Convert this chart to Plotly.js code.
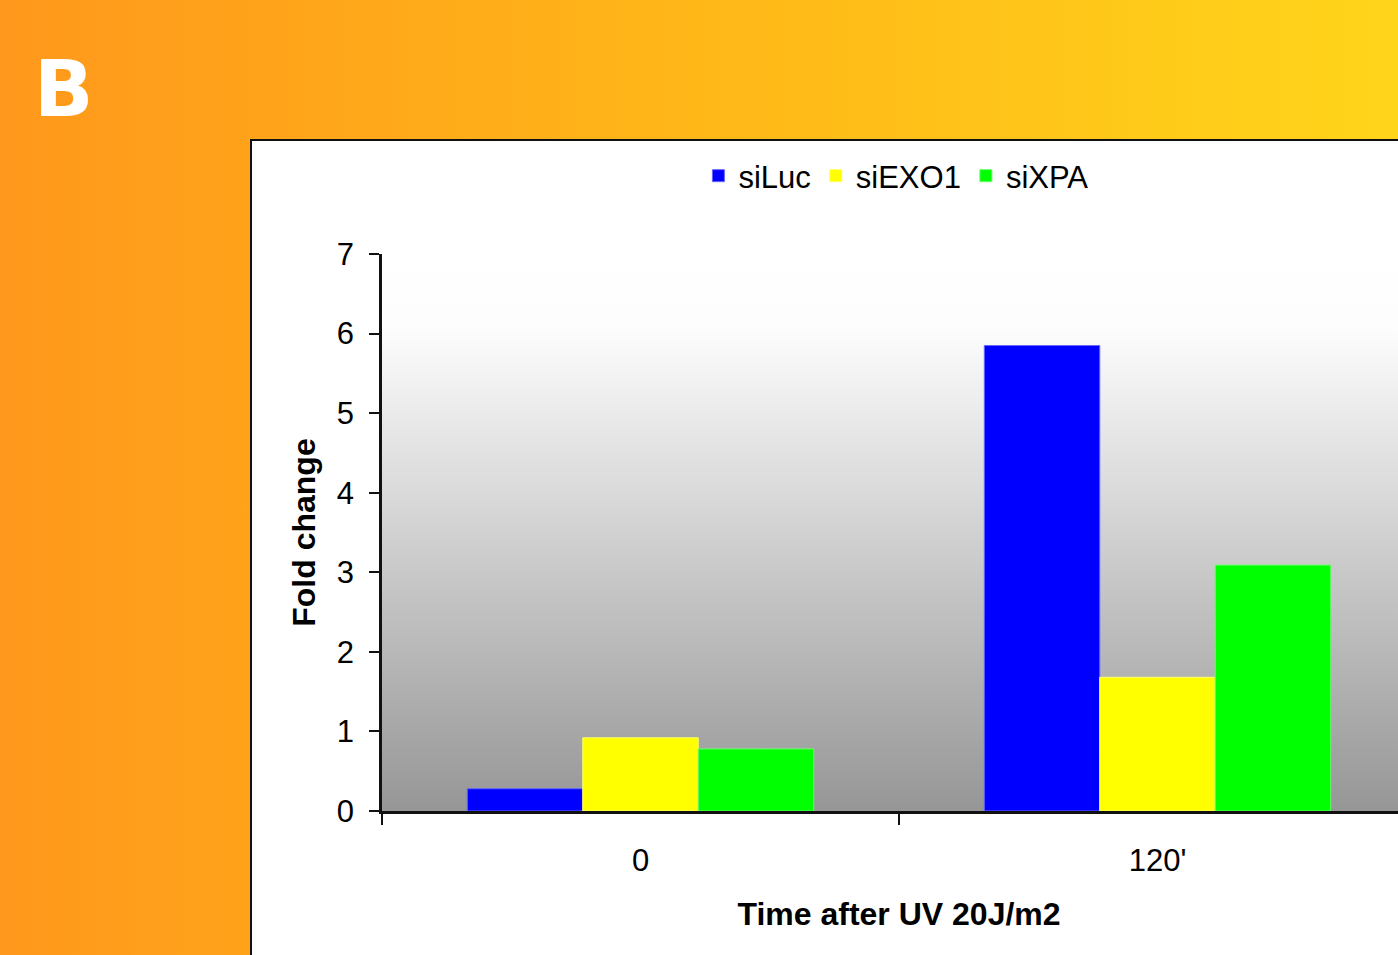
<!DOCTYPE html>
<html>
<head>
<meta charset="utf-8">
<script src="https://cdn.plot.ly/plotly-3.0.1.min.js"></script>
<style>
  html, body { margin: 0; padding: 0; width: 1398px; height: 955px; overflow: hidden; }
  body { background: linear-gradient(to right, #FF981C 0%, #FFB718 50%, #FFD51A 100%); position: relative; }
  #panel { position: absolute; left: 250px; top: 139px; width: 1300px; height: 900px; background: #ffffff; border-left: 2.5px solid #111; border-top: 2.5px solid #111; }
  #plotbg { position: absolute; left: 382px; top: 254px; width: 1034px; height: 557px;
            background: linear-gradient(to bottom, #ffffff 0%, #fdfdfd 13%, #969696 100%); }
  #chart { position: absolute; left: 0; top: 0; width: 1420px; height: 955px; }
</style>
</head>
<body>
<div id="panel"></div>
<div id="plotbg"></div>
<div id="chart"></div>
<script>
const categories = ["0", "120'"];
const seriesNames = ["siLuc", "siEXO1", "siXPA"];
const siLuc = [0.28, 5.85];
const siEXO1 = [0.92, 1.68];
const siXPA = [0.78, 3.09];
const colors = ["#0000FF", "#FFFF00", "#00FF00"];
const lineColors = ["#6666ff", "#ffff66", "#66ff66"];
const yTicks = [0, 1, 2, 3, 4, 5, 6, 7];

const seriesValues = [siLuc, siEXO1, siXPA];
const traces = seriesNames.map((name, i) => ({
  type: 'bar',
  name: name,
  x: categories,
  y: seriesValues[i],
  marker: { color: colors[i], line: { color: lineColors[i], width: 1 } },
  hoverinfo: 'x+y+name'
}));

const font = "Liberation Sans, Arial, sans-serif";
const layout = {
  width: 1420,
  height: 955,
  margin: { l: 382, r: 4, t: 254, b: 144 },
  paper_bgcolor: 'rgba(0,0,0,0)',
  plot_bgcolor: 'rgba(0,0,0,0)',
  barmode: 'group',
  bargap: 0.33,
  bargroupgap: 0,
  showlegend: true,
  legend: {
    orientation: 'h', x: 0.497, xanchor: 'center', y: 1.14, yanchor: 'middle',
    font: { family: font, size: 31, color: '#000' },
    bgcolor: 'rgba(0,0,0,0)', itemwidth: 30, tracegroupgap: 0
  },
  xaxis: {
    type: 'category',
    range: [-0.5, 1.5],
    showline: true, linecolor: '#111', linewidth: 2.5,
    ticks: 'outside', tickson: 'boundaries', ticklen: 11, tickwidth: 2, tickcolor: '#111',
    ticklabelstandoff: 20,
    tickfont: { family: font, size: 31, color: '#000' },
    showgrid: false, zeroline: false,
    title: { text: 'Time after UV 20J/m2', font: { family: font, size: 32, color: '#000', weight: 'bold' }, standoff: 26 }
  },
  yaxis: {
    range: [0, 7],
    tickvals: yTicks,
    ticktext: yTicks.map(String),
    showline: true, linecolor: '#111', linewidth: 2.5,
    ticks: 'outside', ticklen: 10, tickwidth: 2, tickcolor: '#111',
    ticklabelstandoff: 9,
    tickfont: { family: font, size: 31, color: '#000' },
    showgrid: false, zeroline: false,
    title: { text: 'Fold change', font: { family: font, size: 32, color: '#000', weight: 'bold' }, standoff: 12 }
  },
  annotations: [{
    text: 'B', xref: 'paper', yref: 'paper',
    x: (32 - 382) / 1034, xanchor: 'left',
    y: (811 - 89) / 557, yanchor: 'middle',
    showarrow: false,
    font: { family: 'Comic Sans MS, DejaVu Sans, sans-serif', size: 78, color: '#ffffff', weight: 'bold' }
  }]
};

Plotly.newPlot('chart', traces, layout, { displayModeBar: false, staticPlot: false });
</script>
</body>
</html>
